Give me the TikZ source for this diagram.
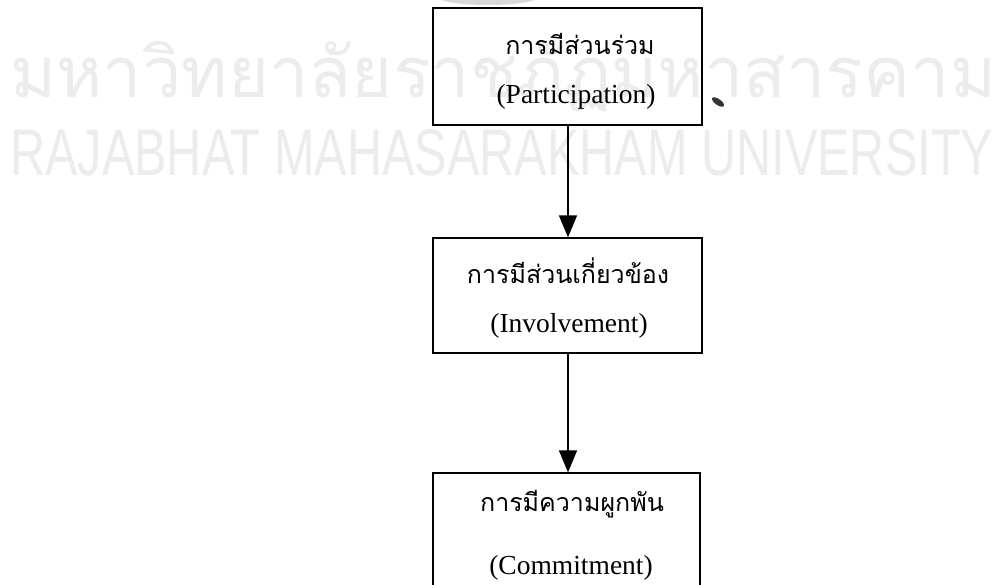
\documentclass[tikz,border=0pt]{standalone}
\usepackage{fontspec}
\usepackage{graphicx}
\usetikzlibrary{arrows.meta}
\setmainfont{Liberation Serif}
\newfontfamily\thaifont[Script=Thai]{Loma}
\newfontfamily\wmsans{Liberation Sans}
\definecolor{wmgray}{HTML}{ECECEC}
\tikzset{
  boxnode/.style={draw=black, line width=1.3pt, rectangle, inner sep=0pt},
  thaitext/.style={font=\thaifont\fontsize{25}{30}\selectfont, inner sep=0pt, anchor=center},
  engtext/.style={font=\fontsize{27.5}{30}\selectfont, inner sep=0pt, anchor=center},
  flowarrow/.style={draw=black, line width=1.5pt, -{Triangle[length=22pt,width=18pt]}},
  wmtext/.style={text=wmgray, inner sep=0pt, anchor=base west}
}
\begin{document}
\begin{tikzpicture}[x=1pt,y=-1pt]
\clip (0,0) rectangle (1002,585);
\fill[white] (0,0) rectangle (1002,585);
% watermark
\node[wmtext] (wmthai) at (10,98) {\resizebox{986pt}{!}{\thaifont มหาวิทยาลัยราชภัฏมหาสารคาม}};
\node[wmtext] (wmeng) at (10,176) {\resizebox{983pt}{46pt}{\wmsans RAJABHAT MAHASARAKHAM UNIVERSITY}};
% scan smudge
\fill[gray!30] (488,-3) ellipse (50 and 8);
% boxes
\node[boxnode, minimum width=269pt, minimum height=117pt] (b1) at (567.5,66.5) {};
\node[boxnode, minimum width=269pt, minimum height=115pt] (b2) at (567.5,295.5) {};
\node[boxnode, minimum width=267pt, minimum height=130pt] (b3) at (566.5,538) {};
% texts
\node[thaitext] (t1) at (580,44) {การมีส่วนร่วม};
\node[engtext] (e1) at (576,97) {(Participation)};
\node[thaitext] (t2) at (568,271) {การมีส่วนเกี่ยวข้อง};
\node[engtext] (e2) at (569,326) {(Involvement)};
\node[thaitext] (t3) at (572,504) {การมีความผูกพัน};
\node[engtext] (e3) at (571,568) {(Commitment)};
% arrows
\draw[flowarrow] (b1.south -| 568,0) -- (b2.north -| 568,0);
\draw[flowarrow] (b2.south -| 568,0) -- (b3.north -| 568,0);
% pen speck
\fill[black!80, rotate around={-35:(718,102)}] (718,102) ellipse (7 and 3);
\end{tikzpicture}
\end{document}
